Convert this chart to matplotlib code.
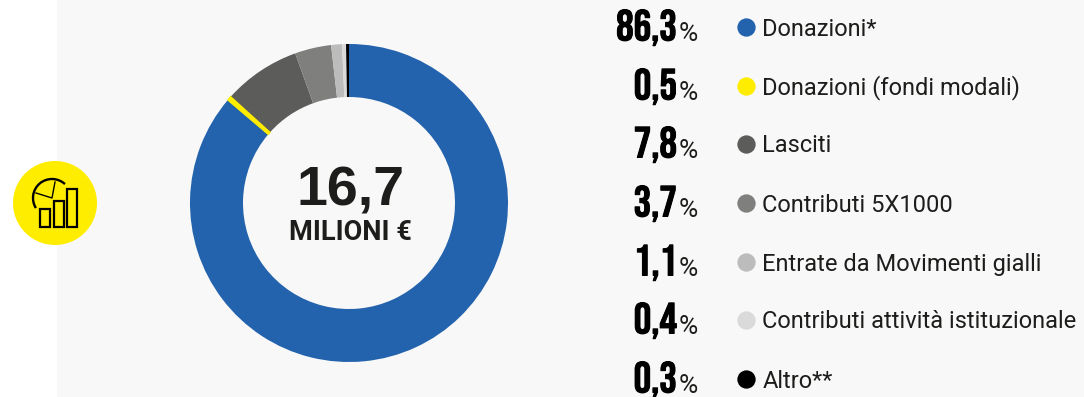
"""Composizione delle entrate: anello con legenda a destra."""

import matplotlib

matplotlib.use("Agg")
import matplotlib.patheffects as pe
import matplotlib.pyplot as plt
from matplotlib.patches import Arc, Circle, Rectangle

labels = [
    "Donazioni*",
    "Donazioni (fondi modali)",
    "Lasciti",
    "Contributi 5X1000",
    "Entrate da Movimenti gialli",
    "Contributi attività istituzionale",
    "Altro**",
]
shares = [86.3, 0.5, 7.8, 3.7, 1.1, 0.4, 0.3]
share_labels = ["86,3", "0,5", "7,8", "3,7", "1,1", "0,4", "0,3"]
colors = ["#2362ac", "#ffed00", "#5c5c5b", "#7f7f7e", "#bcbcbc", "#dadada", "#000000"]

W, H = 1084, 397
BG = "#f8f8f8"
TEXT = "#1d1d1b"
ROW_Y = [27, 86, 144, 203, 262, 320, 379]

fig = plt.figure(figsize=(W / 100, H / 100), dpi=100, facecolor="white")

# overlay in pixel coordinates
ax = fig.add_axes([0, 0, 1, 1])
ax.set_xlim(0, W)
ax.set_ylim(H, 0)
ax.axis("off")
ax.add_patch(Rectangle((57, 0), W - 57, H, color=BG, lw=0))

# anello
cx, cy, r_out = 349, 203, 159
ax_pie = fig.add_axes([(cx - r_out) / W, 1 - (cy + r_out) / H, 2 * r_out / W, 2 * r_out / H])
wedges, _ = ax_pie.pie(shares, colors=colors, startangle=90, counterclock=False, radius=1,
                       wedgeprops={"width": 53 / 159, "linewidth": 0})
wedges[1].set(edgecolor=colors[1], linewidth=1)  # la fetta gialla è un po' più larga
ax_pie.set_xlim(-1, 1)
ax_pie.set_ylim(-1, 1)

ax_top = fig.add_axes([0, 0, 1, 1], facecolor="none")
ax_top.set_xlim(0, W)
ax_top.set_ylim(H, 0)
ax_top.axis("off")
ax_top.text(351, 206, "16,7", family="Liberation Sans", weight="bold", fontsize=40,
            ha="center", va="baseline", color=TEXT)
ax_top.text(350, 240, "MILIONI €", family=["Roboto", "Liberation Sans"], weight="bold",
            fontsize=19.5, ha="center", va="baseline", color=TEXT)

# legenda
for y, lab, val, col in zip(ROW_Y, labels, share_labels, colors):
    ax.scatter([746], [y], s=174, color=col, lw=0, zorder=3)
    ax.text(762.5, y + 8.5, lab, family=["Roboto", "Liberation Sans"], fontsize=17, ha="left",
            va="baseline", color=TEXT)
    ax.text(677, y + 13.5, val, family=["Bebas Neue", "Liberation Sans"], fontsize=31.5,
            ha="right", va="baseline", color="black", clip_on=False,
            path_effects=[pe.withStroke(linewidth=0.7, foreground="black")])
    ax.text(698, y + 14, "%", family=["Roboto", "Liberation Sans"], fontsize=19, ha="right",
            va="baseline", color=TEXT)

# icona
ax.add_patch(Circle((55, 203), 42, color="#ffed00", lw=0, zorder=3))
for x0, top in [(40, 209), (54, 201), (67, 189)]:
    ax.add_patch(Rectangle((x0, top), 10, 227 - top, fill=False, ec="black", lw=1.6, zorder=4))
ax.add_patch(Arc((52, 198), 38, 38, theta1=148, theta2=313, ec="black", lw=1.7, zorder=4))
ax.plot([36, 52, 55], [193, 198, 182], color="black", lw=1, zorder=4)

fig.savefig("out.png", dpi=100, facecolor="white")
